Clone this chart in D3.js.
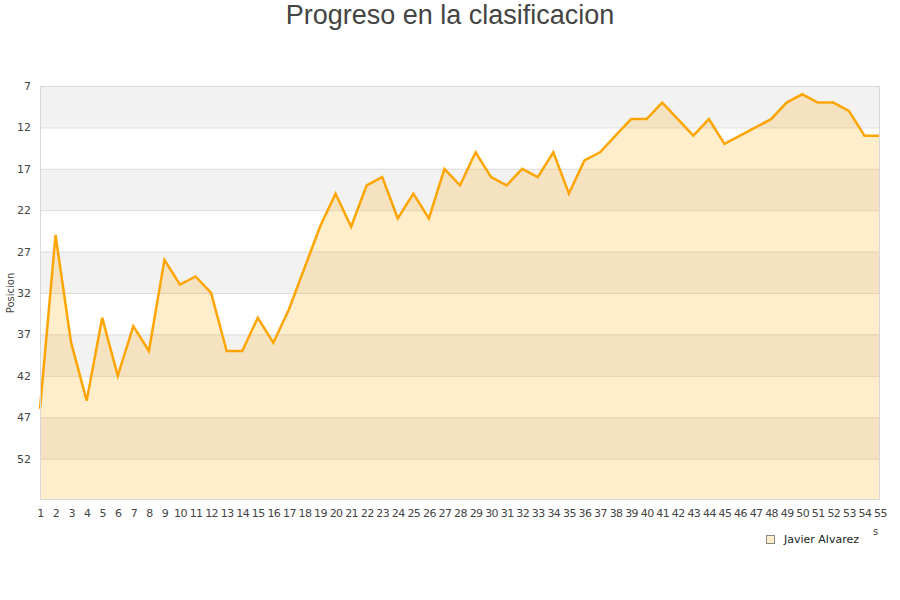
<!DOCTYPE html>
<html>
<head>
<meta charset="utf-8">
<script src="https://cdn.jsdelivr.net/npm/d3@7"></script>
<style>
  body { margin: 0; background: #fff; }
</style>
</head>
<body>
<div class="canvas"></div>
<script>
// jornadas 1..55
const jornadas = d3.range(1, 56)

// posicion en cada jornada
const posiciones = [46, 25, 38, 45, 35, 42, 36, 39, 28, 31,
  30, 32, 39, 39, 35, 38, 34, 29, 24, 20,
  24, 19, 18, 23, 20, 23, 17, 19, 15, 18,
  19, 17, 18, 15, 20, 16, 15, 13, 11, 11,
  9, 11, 13, 11, 14, 13, 12, 11, 9, 8,
  9, 9, 10, 13, 13]

const yTicks = [7, 12, 17, 22, 27, 32, 37, 42, 47, 52]
const yBands = [[7, 12], [17, 22], [27, 32], [37, 42], [47, 52]]
const serie = 'Javier Alvarez'

const width = 900, height = 600
const plot = { left: 40, right: 880, top: 86, bottom: 500 }

const svg = d3.select('.canvas').append('svg')
    .attr('width', width)
    .attr('height', height)

const x = d3.scaleLinear().domain([1, 55]).range([plot.left, plot.right])
const y = d3.scaleLinear().domain([7, 57]).range([plot.top, plot.bottom])

// title
svg.append('text')
    .attr('x', 450)
    .attr('y', 24)
    .attr('text-anchor', 'middle')
    .attr('fill', '#444')
    .style('font-family', 'Liberation Sans, Arial, sans-serif')
    .style('font-size', '27px')
    .text('Progreso en la clasificacion')

// alternating bands
svg.append('g').selectAll('rect')
    .data(yBands)
    .join('rect')
    .attr('x', plot.left)
    .attr('width', plot.right - plot.left)
    .attr('y', d => y(d[0]))
    .attr('height', d => y(d[1]) - y(d[0]))
    .attr('fill', '#f2f2f2')

// grid lines
svg.append('g').selectAll('line')
    .data(yTicks)
    .join('line')
    .attr('x1', plot.left)
    .attr('x2', plot.right)
    .attr('y1', d => y(d) + 0.5)
    .attr('y2', d => y(d) + 0.5)
    .attr('stroke', '#dcdcdc')

// area + line
const area = d3.area()
    .x((d, i) => x(jornadas[i]))
    .y0(y(57))
    .y1(d => y(d))

const line = d3.line()
    .x((d, i) => x(jornadas[i]))
    .y(d => y(d))

svg.append('path')
    .datum(posiciones)
    .attr('d', area)
    .attr('fill', '#ffa500')
    .attr('fill-opacity', 0.2)

svg.append('path')
    .datum(posiciones)
    .attr('d', line)
    .attr('fill', 'none')
    .attr('stroke', '#ffa500')
    .attr('stroke-width', 2.5)
    .attr('stroke-linejoin', 'miter')

// plot border
svg.append('rect')
    .attr('x', plot.left + 0.5)
    .attr('y', plot.top + 0.5)
    .attr('width', plot.right - plot.left - 1)
    .attr('height', plot.bottom - plot.top - 1)
    .attr('fill', 'none')
    .attr('stroke', '#d8d8d8')

// y axis labels
const yAxis = d3.axisLeft(y).tickValues(yTicks).tickSize(0).tickPadding(9)
svg.append('g')
    .attr('transform', `translate(${plot.left},0)`)
    .call(yAxis)
    .call(g => g.select('.domain').remove())
    .selectAll('text')
    .attr('fill', '#444')
    .style('font-family', 'DejaVu Sans, sans-serif')
    .style('font-size', '11px')

// x axis labels
const xAxis = d3.axisBottom(x).tickValues(jornadas).tickFormat(d3.format('d')).tickSize(0).tickPadding(9)
svg.append('g')
    .attr('transform', `translate(0,${plot.bottom})`)
    .call(xAxis)
    .call(g => g.select('.domain').remove())
    .selectAll('text')
    .attr('fill', '#444')
    .style('font-family', 'DejaVu Sans, sans-serif')
    .style('font-size', '11px')
    .style('letter-spacing', '-0.6px')

// y axis title
svg.append('text')
    .attr('transform', 'translate(14,293) rotate(-90)')
    .attr('text-anchor', 'middle')
    .attr('fill', '#444')
    .style('font-family', 'DejaVu Sans, sans-serif')
    .style('font-size', '10px')
    .text('Posicion')

// clipped x title remnant
svg.append('text')
    .attr('x', 873)
    .attr('y', 535)
    .attr('fill', '#444')
    .style('font-family', 'DejaVu Sans, sans-serif')
    .style('font-size', '10px')
    .text('s')

// legend
svg.append('rect')
    .attr('x', 766.5)
    .attr('y', 535.5)
    .attr('width', 8)
    .attr('height', 8)
    .attr('fill', '#ffedcc')
    .attr('stroke', '#888')

svg.append('text')
    .attr('x', 784)
    .attr('y', 543)
    .attr('fill', '#222')
    .style('font-family', 'DejaVu Sans, sans-serif')
    .style('font-size', '11px')
    .text(serie)
</script>
</body>
</html>
